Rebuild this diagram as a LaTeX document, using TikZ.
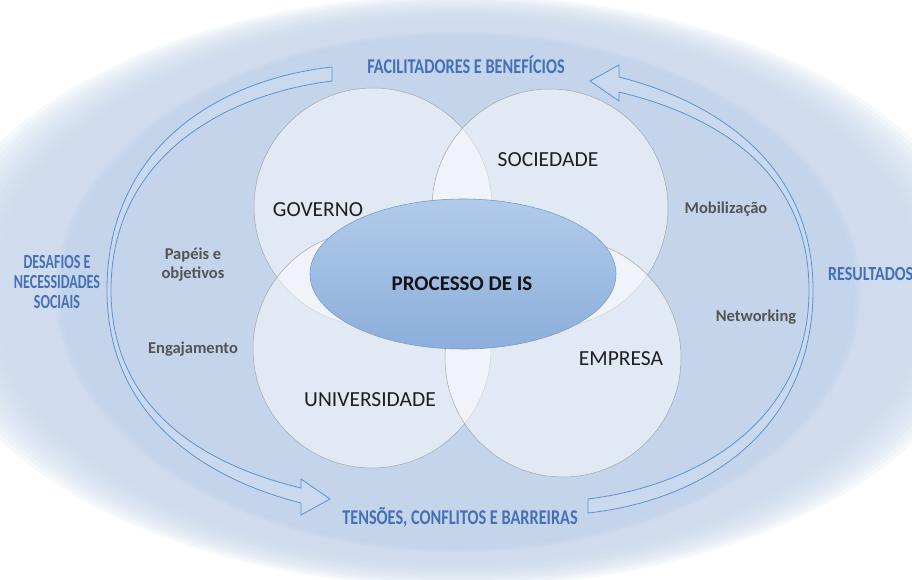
\documentclass[tikz,border=0pt]{standalone}
\usepackage{fontspec}
\setmainfont{Carlito}
\usepackage{graphicx}
\definecolor{hazeC}{HTML}{CCDAEE}
\definecolor{bandC}{HTML}{C3D4EB}
\definecolor{petalLine}{HTML}{A6A6A6}
\definecolor{coreTop}{HTML}{B2CBEA}
\definecolor{coreBot}{HTML}{8CAEDB}
\definecolor{coreLine}{HTML}{7B9BC8}
\definecolor{arrowLine}{HTML}{5B93D3}
\definecolor{phaseTxt}{HTML}{4470B8}
\definecolor{factorTxt}{HTML}{545454}
\begin{document}
\begin{tikzpicture}[x=1pt,y=-1pt,
  petal/.style={draw=petalLine, line width=0.5pt, fill=white, fill opacity=0.5, draw opacity=1},
  core/.style={draw=coreLine, line width=0.6pt, top color=coreTop, bottom color=coreBot},
  arrowband/.style={draw=arrowLine, line width=0.8pt, fill=white, fill opacity=0.12, line join=miter},
  member/.style={font=\fontsize{21.5}{24}\selectfont, text=black!88, anchor=base, inner sep=0pt},
  corelabel/.style={font=\bfseries\fontsize{21}{24}\selectfont, text=black!92, anchor=base, inner sep=0pt},
  phase/.style={font=\bfseries\fontsize{21}{24}\selectfont, text=phaseTxt, anchor=base, inner sep=0pt},
  sidephase/.style={font=\bfseries\fontsize{20}{22}\selectfont, text=phaseTxt, anchor=base, inner sep=0pt},
  factor/.style={font=\bfseries\fontsize{16.5}{19}\selectfont, text=factorTxt, anchor=base, inner sep=0pt}]
\useasboundingbox (0,0) rectangle (912,579);
\clip (0,0) rectangle (912,579);
\fill[white] (0,0) rectangle (912,579);

% soft outer halo
\foreach \k in {0,...,11} {
  \fill[hazeC, opacity=0.16] (458,291) ellipse [x radius={530-6*\k}, y radius={296-2.2*\k}];
}
% inner band with a slightly soft rim
\foreach \k in {3,2,1} {
  \fill[bandC, opacity=0.3] (458,292) ellipse [x radius={397+2*\k}, y radius={256+1.5*\k}];
}
\fill[bandC] (458,292) ellipse [x radius=397, y radius=256];

% two curved block arrows, the second one turned half way round
\foreach \r in {0,180} {
  \begin{scope}[rotate around={\r:(460,290)}]
    \draw[arrowband] (332,67) .. controls (215,80) and (107,150) .. (107,290)
      .. controls (107,420) and (210,480) .. (301,503)
      -- (301,515) -- (330,499) -- (301,479) -- (301,488)
      .. controls (205,465) and (111,410) .. (111,290)
      .. controls (111,160) and (220,95) .. (332,81) -- cycle;
  \end{scope}
}

% the four actors
\path[petal] (373,207) ellipse [x radius=119, y radius=119];
\path[petal] (550,208) ellipse [x radius=118, y radius=119];
\path[petal] (372,349) ellipse [x radius=119, y radius=119];
\path[petal] (563,358) ellipse [x radius=118, y radius=119];

% the central process
\path[core] (463,274) ellipse [x radius=153, y radius=75];

% labels
\node[member] (gov) at (318,216) {GOVERNO};
\node[member] (soc) at (548,166) {SOCIEDADE};
\node[member] (uni) at (370,406.7) {UNIVERSIDADE};
\node[member] (emp) at (621,365) {EMPRESA};
\node[corelabel] (proc) at (462,290.7) {PROCESSO DE IS};

\node[phase] (fac) at (466,73.5) {\scalebox{0.775}[1]{FACILITADORES E BENEFÍCIOS}};
\node[phase] (ten) at (460,524.5) {\scalebox{0.775}[1]{TENSÕES, CONFLITOS E BARREIRAS}};
\node[sidephase] (des1) at (57,268.5) {\scalebox{0.70}[1]{DESAFIOS E}};
\node[sidephase] (des2) at (57,288.5) {\scalebox{0.70}[1]{NECESSIDADES}};
\node[sidephase] (des3) at (57,308.5) {\scalebox{0.70}[1]{SOCIAIS}};
\node[sidephase, anchor=base west] (res) at (828,280.5) {\scalebox{0.8}[1]{RESULTADOS}};

\node[factor] (pap1) at (193,259.3) {Papéis e};
\node[factor] (pap2) at (193,278.3) {objetivos};
\node[factor] (eng) at (193,353.3) {Engajamento};
\node[factor] (mob) at (726,213.3) {Mobilização};
\node[factor] (net) at (756,321.7) {Networking};
\end{tikzpicture}
\end{document}
